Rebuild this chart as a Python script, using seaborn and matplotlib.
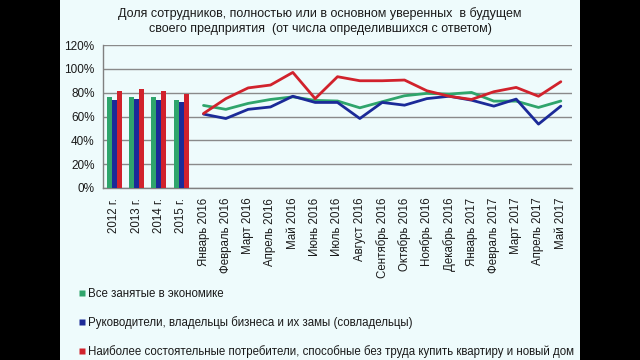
import matplotlib
matplotlib.use("Agg")
import matplotlib.pyplot as plt
from matplotlib.patches import Rectangle
from matplotlib.lines import Line2D
from matplotlib.ticker import FixedLocator
import numpy as np
import pandas as pd
import seaborn as sns

# ---- data ----
years = ["2012 г.", "2013 г.", "2014 г.", "2015 г."]
months = ["Январь 2016", "Февраль 2016", "Март 2016", "Апрель 2016", "Май 2016",
          "Июнь 2016", "Июль 2016", "Август 2016", "Сентябрь 2016", "Октябрь 2016",
          "Ноябрь 2016", "Декабрь 2016", "Январь 2017", "Февраль 2017", "Март 2017",
          "Апрель 2017", "Май 2017"]
series = ["Все занятые в экономике",
          "Руководители, владельцы бизнеса и их замы (совладельцы)",
          "Наиболее состоятельные потребители, способные без труда купить квартиру и новый дом"]

all_years = [76, 76.5, 76.5, 73.7]
heads_years = [73.8, 74.5, 74, 71.8]
rich_years = [81.6, 83, 81.6, 79.3]

all_months = [69.3, 66, 71, 74.3, 76.5, 73.5, 73, 67.3, 72.4, 77.4, 79.4, 78.8, 80.2,
              72.9, 72.9, 67.6, 73]
heads_months = [62, 58.3, 66, 68, 77, 71.8, 71.8, 58.3, 71.8, 69.5, 75, 77, 73.7,
                68.7, 74.6, 53.6, 68.7]
rich_months = [62.5, 75, 84, 86.4, 97, 75, 93.4, 90, 90, 90.6, 81.6, 77, 74.3,
               80.8, 84.4, 77, 89.2]

colors = ["#2fa56c", "#1b2a98", "#d1222c"]
bg = "#eefbfc"
text_c = "#1a1a1a"

categories = years + months

df_bar = pd.DataFrame({
    "cat": years * 3,
    "series": [series[0]] * 4 + [series[1]] * 4 + [series[2]] * 4,
    "value": all_years + heads_years + rich_years,
})
pos = [categories.index(m) for m in months]
df_line = pd.DataFrame({
    "pos": pos * 3,
    "series": [series[0]] * len(months) + [series[1]] * len(months) + [series[2]] * len(months),
    "value": all_months + heads_months + rich_months,
})

sns.set_style("white")
plt.rcParams["font.family"] = ["Liberation Sans", "DejaVu Sans"]

fig = plt.figure(figsize=(6.4, 3.6), dpi=100)
fig.patch.set_facecolor("black")
fig.add_artist(Rectangle((60 / 640, 0), 520 / 640, 1, transform=fig.transFigure,
                         facecolor=bg, edgecolor="none", zorder=-10))

ax = fig.add_axes([103 / 640, 1 - 188 / 360, 469 / 640, 143 / 360])
ax.set_facecolor(bg)

pal = dict(zip(series, colors))
sns.barplot(data=df_bar, x="cat", y="value", hue="series", order=categories,
            hue_order=series, palette=pal, width=0.67, gap=0, ax=ax, legend=False,
            saturation=1, edgecolor="none", errorbar=None, zorder=3)
sns.lineplot(data=df_line, x="pos", y="value", hue="series", hue_order=series,
             palette=pal, linewidth=2.0, ax=ax, legend=False, zorder=4)

ax.set_xlim(-0.5, len(categories) - 0.5)
ax.set_ylim(0, 120)
ax.set_yticks(range(0, 121, 20))
ax.set_yticklabels([f"{v}%" for v in range(0, 121, 20)], fontsize=8.5, color=text_c)
ax.set_xticks(range(len(categories)))
ax.set_xticklabels(categories, rotation=90, fontsize=8.3, color=text_c)
ax.xaxis.set_minor_locator(FixedLocator(np.arange(-0.5, len(categories), 1.0)))
ax.tick_params(axis="x", which="major", length=0, pad=7)
ax.tick_params(axis="x", which="minor", length=4, color="#808080", width=0.8, direction="out")
ax.tick_params(axis="y", length=4, color="#808080", width=0.8, direction="out", pad=2)
ax.set_xlabel("")
ax.set_ylabel("")
ax.grid(axis="y", color="#8a8a8a", linewidth=1.0, zorder=0)
ax.set_axisbelow(True)
for s in ["top", "right"]:
    ax.spines[s].set_visible(False)
for s in ["left", "bottom"]:
    ax.spines[s].set_color("#808080")
    ax.spines[s].set_linewidth(1.0)

fig.text(0.5, 1 - 7 / 360,
         "Доля сотрудников, полностью или в основном уверенных  в будущем\n"
         "своего предприятия  (от числа определившихся с ответом)",
         ha="center", va="top", fontsize=9, color=text_c, linespacing=1.3)

handles = [Line2D([], [], marker="s", linestyle="none", markersize=4.2,
                  markerfacecolor=c, markeredgecolor="none") for c in colors]
fig.legend(handles, series, loc="upper left", bbox_to_anchor=(74 / 640, 1 - 282 / 360),
           frameon=False, fontsize=8.3, labelspacing=1.4, handlelength=0.45,
           handletextpad=0.25, borderpad=0, labelcolor=text_c)

fig.savefig("out.png", dpi=100, facecolor=fig.get_facecolor())
